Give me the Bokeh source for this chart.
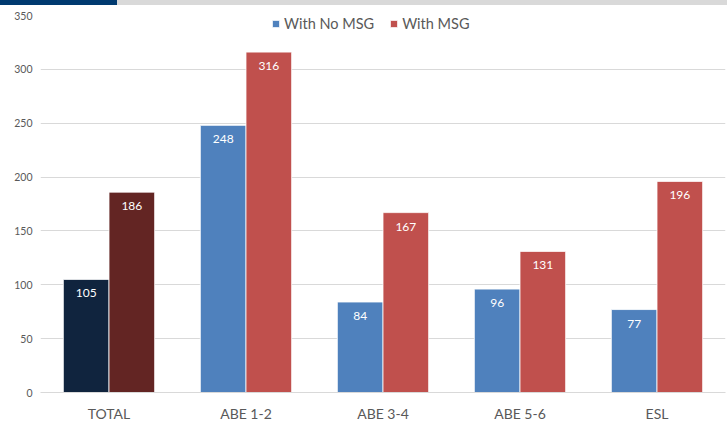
from bokeh.plotting import figure
from bokeh.models import (ColumnDataSource, FactorRange, Range1d, Legend, LegendItem,
                          FixedTicker, Div)
from bokeh.transform import dodge
from bokeh.layouts import column
from bokeh.embed import file_html
from bokeh.resources import INLINE
from bokeh.core.properties import value

# ---- data ----
categories = ["TOTAL", "ABE 1-2", "ABE 3-4", "ABE 5-6", "ESL"]
no_msg = [105, 248, 84, 96, 77]
with_msg = [186, 316, 167, 131, 196]
series_names = ["With No MSG", "With MSG"]
y_ticks = [0, 50, 100, 150, 200, 250, 300, 350]

# ---- styles ----
FONT = "Lato"
GRAY_TXT = "#595959"
GRID = "#D9D9D9"
no_msg_colors = ["#10243E", "#4F81BD", "#4F81BD", "#4F81BD", "#4F81BD"]
msg_colors = ["#632523", "#C0504D", "#C0504D", "#C0504D", "#C0504D"]
W = 727
BAND_H = 5
BAND_SPLIT = 117          # width (px) of the dark part of the decorative band

src = ColumnDataSource(dict(
    cat=categories,
    no_msg=no_msg,
    with_msg=with_msg,
    no_msg_txt=[str(v) for v in no_msg],
    with_msg_txt=[str(v) for v in with_msg],
    c1=no_msg_colors,
    c2=msg_colors,
))

# ---- decorative top band ----
band = Div(text="", width=W, height=BAND_H, margin=0,
           styles={"background": "linear-gradient(to right, #003A70 0px, #003A70 %dpx, "
                                 "#D9D9D9 %dpx, #D9D9D9 100%%)" % (BAND_SPLIT, BAND_SPLIT),
                   "padding": "0", "margin": "0", "overflow": "hidden"})

# ---- main chart ----
p = figure(
    x_range=FactorRange(*categories),
    y_range=Range1d(0, 350),
    width=W, height=424 - BAND_H,
    output_backend="svg", toolbar_location=None,
    min_border_top=10, min_border_left=40, min_border_right=2, min_border_bottom=0,
)
p.outline_line_color = None
p.background_fill_color = "white"
p.border_fill_color = "white"

bw = 1 / 3
r1 = p.vbar(x=dodge("cat", -bw / 2, range=p.x_range), top="no_msg", width=bw,
            source=src, fill_color="c1", line_color="white", line_width=0.8)
r2 = p.vbar(x=dodge("cat", bw / 2, range=p.x_range), top="with_msg", width=bw,
            source=src, fill_color="c2", line_color="white", line_width=0.8)

p.text(x=dodge("cat", -bw / 2, range=p.x_range), y="no_msg", text="no_msg_txt",
       source=src, text_color="white", text_font=value(FONT), text_font_size="12px",
       text_align="center", text_baseline="middle", y_offset=14)
p.text(x=dodge("cat", bw / 2, range=p.x_range), y="with_msg", text="with_msg_txt",
       source=src, text_color="white", text_font=value(FONT), text_font_size="12px",
       text_align="center", text_baseline="middle", y_offset=14)

# axes & grid
p.xgrid.grid_line_color = None
p.ygrid.ticker = FixedTicker(ticks=y_ticks)
p.ygrid.grid_line_color = GRID
p.ygrid.grid_line_width = 1

p.yaxis.ticker = FixedTicker(ticks=y_ticks)
p.yaxis.axis_line_color = None
p.yaxis.major_tick_line_color = None
p.yaxis.minor_tick_line_color = None
p.yaxis.major_tick_out = 0
p.yaxis.major_label_text_font = FONT
p.yaxis.major_label_text_font_size = "10.5px"
p.yaxis.major_label_text_color = GRAY_TXT
p.yaxis.major_label_standoff = 8

p.xaxis.axis_line_color = GRID
p.xaxis.axis_line_width = 1
p.xaxis.major_tick_line_color = None
p.xaxis.minor_tick_line_color = None
p.xaxis.major_tick_out = 0
p.xaxis.major_label_text_font = FONT
p.xaxis.major_label_text_font_size = "14px"
p.xaxis.major_label_text_color = GRAY_TXT
p.xaxis.major_label_standoff = 12

legend = Legend(
    items=[LegendItem(label=series_names[0], renderers=[r1], index=1),
           LegendItem(label=series_names[1], renderers=[r2], index=1)],
    orientation="horizontal",
    location=(231, 360),
    border_line_color=None, background_fill_alpha=0,
    glyph_width=9, glyph_height=9,
    label_text_font=FONT, label_text_font_size="14.5px", label_text_color=GRAY_TXT,
    label_standoff=4, spacing=15, padding=0, margin=0,
)
p.add_layout(legend)

layout = column(band, p, spacing=0)
open("out.html", "w").write(file_html(layout, INLINE))
